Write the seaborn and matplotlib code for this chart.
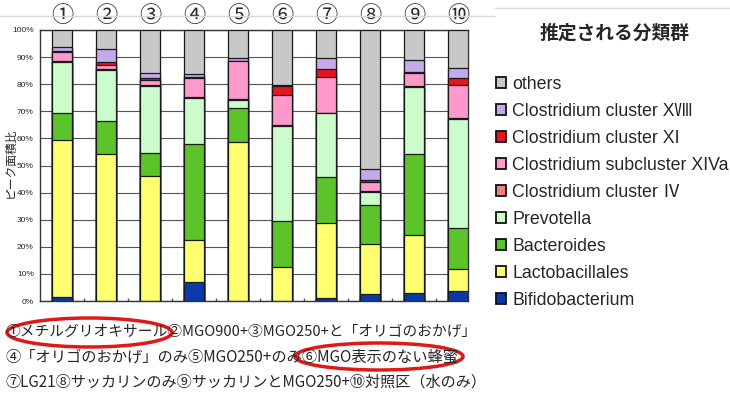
import numpy as np
import matplotlib
matplotlib.use("Agg")
import matplotlib.pyplot as plt
import seaborn as sns
from matplotlib.patches import Patch, Ellipse
from matplotlib.lines import Line2D

# ---- data ----
groups = ["①", "②", "③", "④", "⑤", "⑥", "⑦", "⑧", "⑨", "⑩"]
series_names = ["Bifidobacterium", "Lactobacillales", "Bacteroides", "Prevotella",
                "Clostridium cluster Ⅳ", "Clostridium subcluster XIVa",
                "Clostridium cluster XI", "Clostridium cluster XⅧ", "others"]
bifidobacterium = [1.6, 0.0, 0.0, 7.1, 0.0, 0.0, 1.2, 2.5, 2.8, 3.7]
lactobacillales = [57.7, 54.2, 46.2, 15.4, 58.5, 12.6, 27.7, 18.4, 21.5, 8.0]
bacteroides = [9.9, 12.1, 8.4, 35.6, 12.7, 17.0, 16.9, 14.5, 29.9, 15.3]
prevotella = [19.0, 19.0, 24.7, 16.7, 3.1, 35.1, 23.4, 4.9, 24.8, 40.3]
clost_iv = [0.3, 0.4, 0.3, 0.3, 0.3, 0.3, 0.3, 0.3, 0.2, 0.3]
clost_xiva = [3.3, 1.3, 2.0, 7.3, 13.8, 10.9, 13.1, 3.4, 4.9, 12.2]
clost_xi = [0.6, 1.3, 0.8, 0.3, 0.3, 3.3, 3.1, 0.5, 0.3, 2.6]
clost_xviii = [1.2, 4.7, 1.6, 0.9, 1.0, 0.4, 4.1, 4.2, 4.6, 3.7]
others = [6.4, 7.0, 16.0, 16.4, 10.3, 20.4, 10.2, 51.3, 11.0, 13.9]
ytick_values = [0, 10, 20, 30, 40, 50, 60, 70, 80, 90, 100]
ylabel_text = "ピーク面積比"
legend_title = "推定される分類群"
caption_lines = [
    "①メチルグリオキサール②MGO900+③MGO250+と「オリゴのおかげ」",
    "④「オリゴのおかげ」のみ⑤MGO250+のみ⑥MGO表示のない蜂蜜",
    "⑦LG21⑧サッカリンのみ⑨サッカリンとMGO250+⑩対照区（水のみ）",
]
caption_sizes = [10.6, 11, 10.9]

colors = ["#0a3aa8", "#ffff70", "#5cc42a", "#ccfccc", "#f08080",
          "#ff99cc", "#e81420", "#c4aae8", "#c8c8c8"]

series = [bifidobacterium, lactobacillales, bacteroides, prevotella, clost_iv,
          clost_xiva, clost_xi, clost_xviii, others]
cum = np.cumsum(np.array(series, dtype=float), axis=0)

sns.set_theme(style="white")
plt.rcParams["font.family"] = ["Noto Sans CJK JP", "DejaVu Sans"]

W, H = 730, 399
fig = plt.figure(figsize=(W / 100, H / 100), dpi=100)
ax = fig.add_axes([40 / W, 1 - 301 / H, 428 / W, 271 / H])

bar_w = 0.45
for k in reversed(range(len(series))):
    sns.barplot(x=groups, y=cum[k], color=colors[k], width=bar_w, saturation=1,
                edgecolor="#1a1a1a", linewidth=0.9, ax=ax, zorder=3)

ax.set_xlim(-0.5, len(groups) - 1 + bar_w / 2)
ax.set_ylim(0, 100)

# grid
ax.set_yticks(ytick_values)
ax.set_yticklabels([f"{v}%" for v in ytick_values], fontsize=6,
                   family=["Liberation Sans", "DejaVu Sans"])
ax.yaxis.grid(True, color="#555555", lw=0.8, zorder=0)
ax.set_axisbelow(True)
for i in range(len(groups)):
    ax.axvline(i + bar_w / 2, color="#555555", lw=0.8, zorder=0)

# top labels
ax.xaxis.tick_top()
ax.set_xticks(range(len(groups)))
ax.set_xticklabels(groups, fontsize=16)
ax.tick_params(axis="x", which="major", length=0, pad=2)
ax.set_xticks(np.arange(0.5, len(groups) - 1, 1), minor=True)
ax.tick_params(axis="x", which="minor", bottom=True, top=False, direction="in",
               length=2.5, color="#555555")
ax.tick_params(axis="y", length=0, pad=4.5)
ax.set_xlabel("")
ax.set_ylabel(ylabel_text, fontsize=8.5)
ax.yaxis.set_label_coords(-23 / 428, (301 - 163) / 271)

for s in ax.spines.values():
    s.set_color("#333333")
    s.set_linewidth(1.0)

# faint top rules
fig.add_artist(Line2D([0, 495 / W], [1 - 16 / H] * 2, color="#d8d8d8", lw=1,
                      transform=fig.transFigure))
fig.add_artist(Line2D([495 / W, 1], [1 - 8 / H] * 2, color="#d8d8d8", lw=1,
                      transform=fig.transFigure))

# legend
fig.text(615 / W, 1 - 33 / H, legend_title, ha="center", va="center",
         fontsize=13.5, fontweight="bold")
order = list(reversed(range(len(series))))
handles = [Patch(facecolor=colors[k], edgecolor="#111111", lw=1.3) for k in order]
labels = [series_names[k] for k in order]
fig.legend(handles, labels, loc="upper left", bbox_to_anchor=(496 / W, 1 - 76 / H),
           frameon=False, handlelength=0.55, handleheight=0.55, handletextpad=0.35,
           labelspacing=0.56, borderaxespad=0, borderpad=0,
           prop={"family": ["Liberation Sans", "Noto Sans CJK JP"], "size": 12.8})

# captions
for j, line in enumerate(caption_lines):
    fig.text(5 / W, 1 - (332 + 25 * j) / H, line, ha="left", va="center",
             fontsize=caption_sizes[j])

fig.add_artist(Ellipse((89.5 / W, 1 - 332.5 / H), 165 / W, 29 / H,
                       transform=fig.transFigure, fill=False,
                       edgecolor="#e01818", lw=2.5))
fig.add_artist(Ellipse((379 / W, 1 - 356.5 / H), 168 / W, 27 / H,
                       transform=fig.transFigure, fill=False,
                       edgecolor="#e01818", lw=2.5))

fig.savefig("out.png", dpi=100)
